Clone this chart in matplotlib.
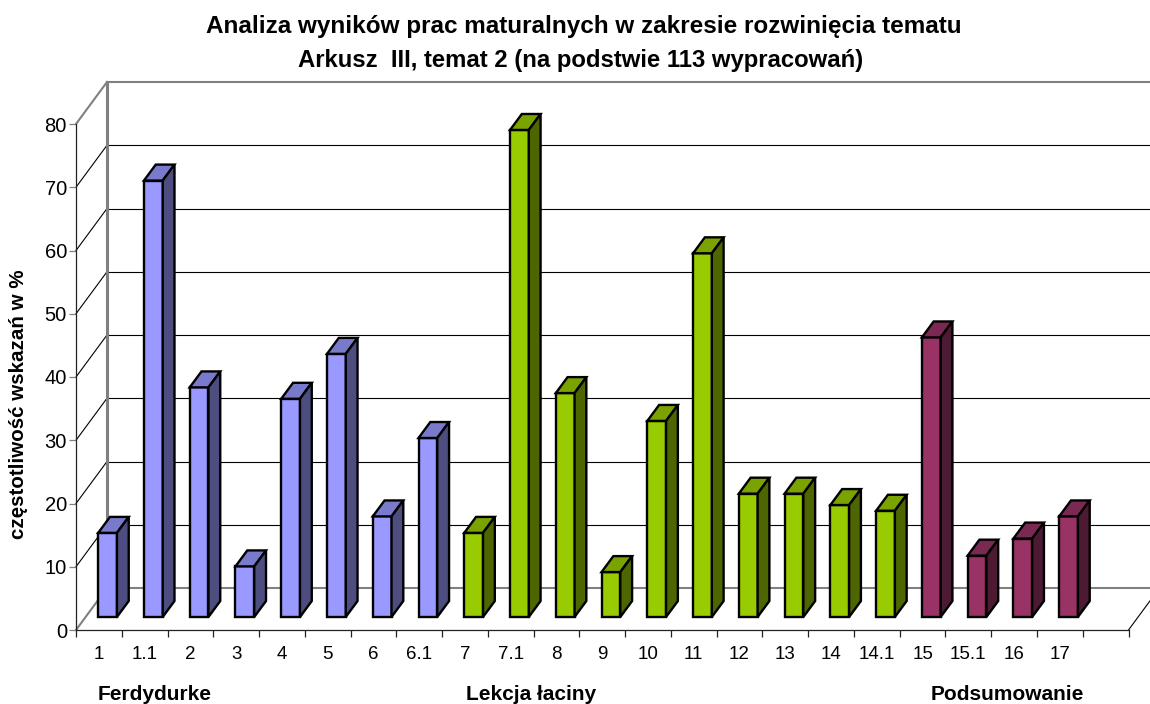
import matplotlib
matplotlib.use("Agg")
import matplotlib.pyplot as plt
from matplotlib.patches import Polygon

plt.rcParams["font.family"] = ["Liberation Sans", "DejaVu Sans"]

# =====================================================
# DATA
# =====================================================

categories = ["1", "1.1", "2", "3", "4", "5", "6", "6.1",
              "7", "7.1", "8", "9", "10", "11", "12", "13", "14", "14.1",
              "15", "15.1", "16", "17"]
values = [13.3, 69.0, 36.3, 8.0, 34.5, 41.6, 15.9, 28.3,
          13.3, 77.0, 35.4, 7.1, 31.0, 57.5, 19.5, 19.5, 17.7, 16.8,
          44.2, 9.7, 12.4, 15.9]
group_sizes = [8, 10, 4]
group_names = ["Ferdydurke", "Lekcja łaciny", "Podsumowanie"]
y_ticks = [0, 10, 20, 30, 40, 50, 60, 70, 80]

# front, top, side
group_colors = [("#9999FF", "#7A7ACC", "#4D4D80"),
                ("#99CC00", "#7AA300", "#4D6600"),
                ("#993366", "#7A2952", "#4D1A33")]

# =====================================================
# LAYOUT (pixels of the 1150x704 picture)
# =====================================================

W, H = 1150, 704
LEFT, RIGHT, BOTTOM, TOP = 76, 1128.5, 630, 124
N_SLOTS = 23
YMAX = 80
DEPTH_X = 31 / ((RIGHT - LEFT) / N_SLOTS)  # in slots
DEPTH_Y = 42 / ((BOTTOM - TOP) / YMAX)     # in value units
BAR_W = 0.41
BAR_D0, BAR_D1 = 0.31, 0.69
GRAY = "#808080"


def proj(x, y, d):
    return (x + d * DEPTH_X, y + d * DEPTH_Y)


fig = plt.figure(figsize=(W / 100, H / 100), dpi=100)
ax = fig.add_axes([LEFT / W, 1 - BOTTOM / H, (RIGHT - LEFT) / W, (BOTTOM - TOP) / H])
ax.set_xlim(0, N_SLOTS)
ax.set_ylim(0, YMAX)
ax.patch.set_visible(False)
for s in ["top", "right"]:
    ax.spines[s].set_visible(False)
ax.spines["left"].set_linewidth(0.9)
ax.spines["bottom"].set_linewidth(0.9)
ax.spines["left"].set_color("#222222")
ax.spines["bottom"].set_color("#222222")

# =====================================================
# WALLS + GRID
# =====================================================

for v in y_ticks:
    col = GRAY if v in (0, 80) else "black"
    lw = 1.5 if v in (0, 80) else 0.8
    x0, y0 = proj(0, v, 0)
    x1, y1 = proj(0, v, 1)
    ax.plot([x0, x1], [y0, y1], color=col, lw=lw, clip_on=False, zorder=1)
    xr, yr = proj(N_SLOTS, v, 1)
    ax.plot([x1, xr], [y1, yr], color=col, lw=lw, clip_on=False, zorder=1)

xa, ya = proj(0, 0, 1)
xb, yb = proj(0, YMAX, 1)
ax.plot([xa, xb], [ya, yb], color=GRAY, lw=2.2, clip_on=False, zorder=1)
xa, ya = proj(N_SLOTS, 0, 0)
xb, yb = proj(N_SLOTS, 0, 1)
ax.plot([xa, xb], [ya, yb], color="black", lw=0.8, clip_on=False, zorder=1)

# =====================================================
# BARS
# =====================================================

bar_colors = []
for size, cols in zip(group_sizes, group_colors):
    bar_colors += [cols] * size

for i, (val, cols) in enumerate(zip(values, bar_colors)):
    xl = i + 0.48 - BAR_W / 2
    xr = i + 0.48 + BAR_W / 2
    front = [proj(xl, 0, BAR_D0), proj(xr, 0, BAR_D0), proj(xr, val, BAR_D0), proj(xl, val, BAR_D0)]
    top = [proj(xl, val, BAR_D0), proj(xr, val, BAR_D0), proj(xr, val, BAR_D1), proj(xl, val, BAR_D1)]
    side = [proj(xr, 0, BAR_D0), proj(xr, 0, BAR_D1), proj(xr, val, BAR_D1), proj(xr, val, BAR_D0)]
    for pts, c in zip([front, top, side], cols):
        ax.add_patch(Polygon(pts, closed=True, facecolor=c, edgecolor="black",
                             linewidth=1.7, joinstyle="miter", clip_on=False, zorder=3 + i * 0.01))

# =====================================================
# AXES TEXT
# =====================================================

ax.set_yticks(y_ticks)
ax.tick_params(axis="y", length=5, width=0.9, color=GRAY, labelsize=14.5, pad=1.5)
ax.set_xticks(range(N_SLOTS + 1))
ax.set_xticklabels([])
ax.tick_params(axis="x", which="major", length=5, width=0.9, color="#222222")
ax.set_xticks([i + 0.5 for i in range(len(categories))], minor=True)
ax.set_xticklabels(categories, minor=True, fontsize=13.5)
ax.tick_params(axis="x", which="minor", length=0, pad=11.5)

fig.text(583.5 / W, 1 - 27 / H, "Analiza wyników prac maturalnych w zakresie rozwinięcia tematu",
         ha="center", va="center", fontsize=17.5, fontweight="bold")
fig.text(581 / W, 1 - 60 / H, "Arkusz  III, temat 2 (na podstwie 113 wypracowań)",
         ha="center", va="center", fontsize=17.2, fontweight="bold")
fig.text(19 / W, 1 - 404 / H, "częstotliwość wskazań w %", rotation=90,
         ha="center", va="center", fontsize=14.8, fontweight="bold")

for name, cx in zip(group_names, [154.5, 531, 1007]):
    fig.text(cx / W, 1 - 695 / H, name, ha="center", va="center", fontsize=15, fontweight="bold")

fig.savefig("out.png", dpi=100)
